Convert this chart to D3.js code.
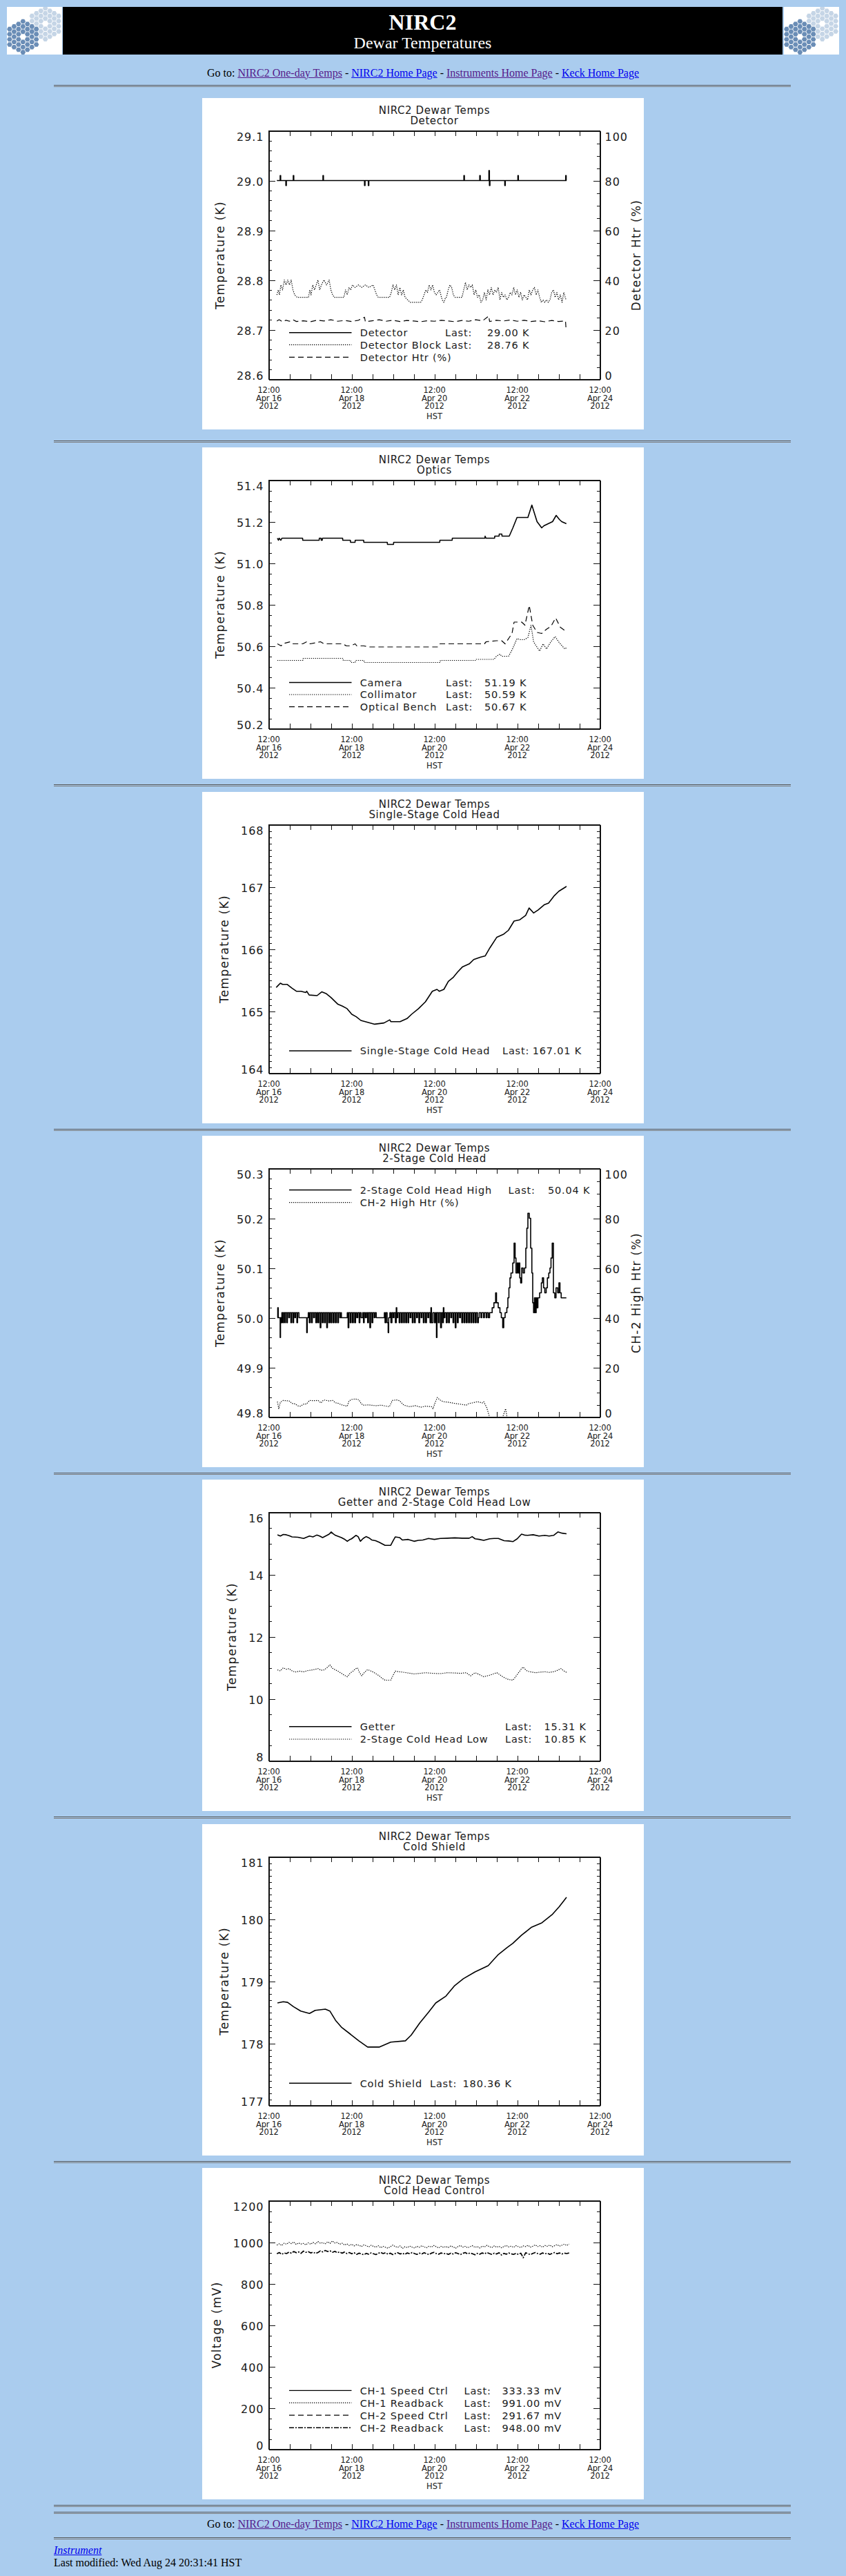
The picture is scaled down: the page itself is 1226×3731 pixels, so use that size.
<!DOCTYPE html>
<html>
<head>
<meta charset="utf-8">
<title>NIRC2 Dewar Temperatures</title>
<script src="https://cdn.jsdelivr.net/npm/d3@7"></script>
<style>
html, body { margin: 0; padding: 0; }
body { width: 1226px; height: 3731px; position: relative; overflow: hidden;
       background: #aaccee; font-family: "Liberation Serif", "Times New Roman", serif; }
.abs { position: absolute; }
.hr { position: absolute; left: 78px; width: 1068px; height: 1px;
      border-top: 1px solid #555; border-bottom: 1px solid #7a7a7a; }
.line { position: absolute; white-space: nowrap; font-size: 16px; line-height: 16px; }
a { color: #0000ee; }
a.v { color: #551a8b; }
svg.panel { position: absolute; left: 293px; }
svg text { font-family: "DejaVu Sans", sans-serif; fill: #1a1a1a; }
</style>
</head>
<body>
<script>
// ---------- data (hours after 12:00 Apr 16 2012 HST, value) ----------
var navLinks = ["NIRC2 One-day Temps", "NIRC2 Home Page", "Instruments Home Page", "Keck Home Page"];
var navVisited = [true, false, true, false];

var detector = [[4.7,29.00],[6.6,29.01],[6.9,29.00],[9.9,28.99],[10.2,29.00],[14.2,29.01],[14.5,29.00],
  [31.4,29.01],[31.7,29.00],[55.5,28.99],[55.8,29.00],[57.7,28.99],[58.0,29.00],[113.1,29.01],[113.4,29.00],
  [122.3,29.01],[122.6,29.00],[127.6,29.02],[127.9,28.99],[128.2,29.00],[136.8,28.99],[137.1,29.00],
  [144.4,29.01],[144.7,29.00],[172.1,29.01],[172.4,29.00],[172.6,29.00]];
var detectorBlock = [[4.7,28.77],[5.5,28.78],[6.2,28.77],[7,28.79],[8,28.78],[9,28.80],[10,28.79],[11,28.80],
  [12,28.79],[13,28.80],[14,28.78],[15,28.77],[16.5,28.765],[20,28.765],[23,28.765],[23.8,28.78],[24.5,28.77],
  [25.5,28.79],[26.5,28.78],[27.5,28.79],[28.5,28.80],[29.5,28.78],[30.5,28.79],[32,28.80],[33.5,28.79],
  [35,28.80],[36,28.78],[37,28.77],[38,28.765],[41,28.765],[43.5,28.765],[44.5,28.78],[45.5,28.77],
  [46.5,28.785],[47.5,28.78],[48.5,28.79],[50,28.785],[52,28.79],[54,28.785],[56,28.79],[58,28.785],
  [60.5,28.79],[61.5,28.78],[62.5,28.77],[63.5,28.765],[70,28.765],[71,28.775],[72,28.79],[73,28.78],
  [74,28.79],[75,28.77],[76,28.785],[77,28.77],[78,28.78],[79,28.765],[80.5,28.76],[82,28.755],[88,28.755],
  [89,28.76],[90,28.77],[91,28.78],[92,28.775],[93,28.79],[94,28.78],[95,28.79],[96,28.775],[97,28.77],
  [98,28.775],[99,28.78],[100.5,28.76],[101.5,28.755],[102.5,28.765],[103,28.765],[104,28.78],[105,28.79],
  [106,28.785],[107,28.77],[108,28.765],[112,28.765],[113,28.78],[114,28.795],[115,28.78],[116,28.79],
  [117,28.785],[118,28.79],[119,28.77],[120,28.78],[121,28.765],[122,28.77],[123,28.755],[124,28.76],
  [125,28.775],[126,28.76],[127,28.78],[128,28.77],[129,28.785],[130,28.77],[131,28.78],[132,28.775],
  [133,28.785],[134,28.76],[135,28.775],[136,28.765],[137,28.77],[138,28.76],[139,28.765],[140,28.775],
  [141,28.77],[142,28.785],[143,28.77],[144,28.78],[145,28.765],[146,28.775],[147,28.76],[148,28.77],
  [149,28.765],[150,28.76],[151,28.78],[152,28.77],[153,28.78],[154,28.785],[155,28.77],[156,28.78],
  [157,28.765],[158,28.755],[159,28.76],[160,28.755],[161,28.76],[162,28.755],[163,28.76],[164,28.775],
  [165,28.78],[166,28.765],[167,28.775],[168,28.76],[169,28.77],[170,28.755],[171,28.775],[172.3,28.76]];
var detectorHtr = [[4.7,23.5],[6,24],[8,23.2],[10,23.8],[12,23.4],[14,24],[16,23.3],[20,23.6],[24,23.2],
  [28,23.8],[32,23.5],[36,24],[40,23.4],[44,23.7],[48,23.3],[52,23.8],[55.5,25],[56,23.2],[60,23.6],[64,24],
  [68,23.4],[72,23.8],[76,23.3],[80,23.7],[84,23.5],[88,23.2],[92,23.6],[96,23.4],[100,23.8],[104,23.5],
  [108,23.2],[112,23.7],[116,23.4],[120,24],[124,23.6],[127.5,25.5],[128,23.3],[132,23.8],[136,23.5],
  [140,23.9],[144,23.4],[148,23.8],[152,23.3],[156,23.6],[160,23.2],[164,23.7],[168,23.3],[172,23.5],[172.3,20.5]];
var detYTicks = [28.6, 28.7, 28.8, 28.9, 29.0, 29.1];
var htrTicks = [0, 20, 40, 60, 80, 100];
var detNames = ["Detector", "Detector Block", "Detector Htr (%)"];
var detLast = ["29.00 K", "28.76 K", null];

var camera = [[5.0,51.12],[5.6,51.11],[6.0,51.12],[7.0,51.11],[7.6,51.12],[19.6,51.12],[19.7,51.11],[29.2,51.11],
  [29.3,51.12],[30.3,51.12],[30.4,51.11],[31.0,51.11],[31.1,51.12],[42.8,51.12],[42.9,51.11],[47.3,51.11],
  [47.4,51.10],[50.0,51.10],[50.1,51.11],[55.0,51.11],[55.1,51.10],[68.7,51.10],[68.8,51.09],[72.3,51.09],
  [72.4,51.10],[99.1,51.10],[99.2,51.11],[106.3,51.11],[106.4,51.12],[125.3,51.12],[125.4,51.13],[125.9,51.12],
  [130.9,51.12],[131.0,51.13],[133.5,51.13],[133.6,51.14],[135.1,51.14],[135.2,51.13],[139.4,51.13],
  [141.5,51.17],[143.9,51.22],[150.2,51.22],[152.5,51.28],[154.0,51.24],[155.5,51.20],[158.2,51.17],
  [159.5,51.18],[162.0,51.19],[164.5,51.20],[166.6,51.23],[168.5,51.21],[169.8,51.20],[172.5,51.19]];
var collimator = [[5.0,50.53],[19.7,50.53],[20,50.54],[42.9,50.54],[43.2,50.53],[47.4,50.53],[47.7,50.52],
  [50.1,50.52],[50.4,50.53],[55.1,50.53],[55.4,50.52],[99.2,50.52],[99.5,50.53],[120,50.53],[120.3,50.535],
  [130.5,50.535],[132,50.55],[134,50.56],[135,50.55],[139,50.55],[141,50.58],[143.9,50.635],[146,50.63],
  [148,50.63],[150.2,50.64],[152,50.70],[153.5,50.62],[155,50.60],[157,50.575],[159,50.61],[161,50.585],
  [163.5,50.62],[166,50.645],[168,50.62],[171.6,50.585],[172.5,50.59]];
var opticalBench = [[5.0,50.61],[7.2,50.60],[8.0,50.61],[12.5,50.62],[14,50.61],[19.7,50.61],[22,50.62],
  [24,50.61],[30,50.62],[32,50.61],[42.9,50.61],[45,50.60],[47.4,50.60],[50.1,50.61],[51,50.60],[55.1,50.60],
  [58,50.595],[98,50.595],[99.2,50.61],[110,50.61],[125,50.61],[126,50.62],[132,50.625],[135,50.625],
  [137,50.61],[139.4,50.64],[141,50.66],[142.2,50.715],[146.6,50.715],[148.5,50.70],[151,50.795],[153,50.70],
  [155.5,50.665],[158.2,50.66],[160.9,50.68],[163.6,50.695],[166.3,50.735],[169,50.69],[171.5,50.675],[172.5,50.67]];
var opticsYTicks = [50.2, 50.4, 50.6, 50.8, 51.0, 51.2, 51.4];
var opticsNames = ["Camera", "Collimator", "Optical Bench"];
var opticsLast = ["51.19 K", "50.59 K", "50.67 K"];

var singleStage = [[4.3,165.38],[5.3,165.41],[6.7,165.45],[8.0,165.43],[10.7,165.43],[13.4,165.37],[16.0,165.32],
  [18.7,165.32],[21.4,165.30],[22.0,165.32],[23.4,165.26],[28.0,165.25],[30.7,165.31],[33.4,165.28],[36.0,165.22],
  [40.1,165.11],[42.7,165.08],[45.4,165.04],[48.1,164.95],[50.7,164.91],[53.4,164.85],[57.4,164.82],[61.4,164.79],
  [66.8,164.81],[70.1,164.86],[70.8,164.83],[76.1,164.83],[80.1,164.88],[82.8,164.95],[86.8,165.04],[90.8,165.15],
  [94.8,165.32],[97.5,165.35],[98.8,165.32],[101.5,165.35],[104.1,165.48],[106.8,165.54],[109.5,165.63],
  [112.2,165.71],[116.2,165.76],[118.8,165.83],[122.8,165.87],[125.5,165.89],[128.2,166.02],[132.2,166.19],
  [136.2,166.24],[138.9,166.30],[142.2,166.45],[145.5,166.47],[148.9,166.54],[150.9,166.66],[153.5,166.58],
  [156.2,166.63],[159.6,166.71],[162.2,166.74],[165.6,166.86],[168.2,166.93],[172.2,167.00],[172.5,167.01]];
var singleYTicks = [164, 165, 166, 167, 168];
var singleNames = ["Single-Stage Cold Head"];
var singleLast = ["167.01 K"];

var coldHeadHigh = [[5.0,50.00],[5.2,50.02],[5.5,50.00],[6.6,49.96],[6.8,50.00],[7.2,49.99],[7.6,50.01],[8.2,49.99],
  [8.6,50.01],[9.3,49.99],[9.6,50.01],[10.4,49.99],[10.8,50.01],[11.6,50.00],[12.0,50.01],[12.8,49.99],[13.2,50.01],
  [14.0,49.99],[14.4,50.01],[15.1,50.00],[15.5,50.01],[16.3,49.99],[16.7,50.01],[17.5,50.00],[22.0,49.97],
  [22.3,50.00],[22.9,50.01],[23.5,49.99],[24.0,50.01],[24.8,49.99],[25.2,50.01],[26.0,50.00],[26.5,50.01],
  [27.3,49.99],[27.8,50.01],[28.5,49.99],[29.0,50.01],[29.8,49.98],[30.2,50.01],[31.0,49.99],[31.5,50.01],
  [32.3,49.99],[32.8,50.01],[33.6,49.98],[34.0,50.01],[34.8,49.99],[35.3,50.01],[36.0,49.99],[36.5,50.01],
  [37.3,49.99],[37.8,50.01],[38.6,49.99],[39.1,50.01],[39.9,49.99],[40.4,50.01],[41.2,50.00],[41.7,50.01],
  [42.1,50.00],[45.5,50.01],[46.0,49.98],[46.4,50.01],[47.2,49.99],[47.7,50.01],[48.5,49.99],[49.0,50.01],
  [49.8,49.99],[50.3,50.01],[51.0,50.00],[51.6,50.01],[52.4,49.99],[52.8,50.01],[53.5,50.00],[54.4,50.01],
  [54.9,49.99],[55.3,50.01],[56.0,50.00],[56.6,50.01],[57.3,49.99],[57.8,50.01],[58.6,49.98],[59.0,50.01],
  [59.8,49.99],[60.3,50.01],[61.1,50.00],[61.6,50.01],[62.3,50.00],[67.0,50.01],[67.4,49.99],[67.9,50.01],
  [68.6,49.99],[69.2,49.97],[69.5,50.00],[70.2,50.01],[70.8,49.99],[71.4,50.01],[72.1,50.00],[72.6,50.01],
  [73.4,49.99],[73.9,50.02],[74.2,50.00],[74.8,50.01],[75.6,49.99],[76.1,50.01],[76.9,49.99],[77.4,50.01],
  [78.2,49.99],[78.6,50.01],[79.4,49.99],[79.9,50.01],[80.7,49.99],[81.1,50.01],[81.9,50.00],[82.4,50.01],
  [83.2,49.99],[83.7,50.01],[84.5,49.99],[84.9,50.01],[85.7,50.00],[86.2,50.01],[87.0,49.99],[87.5,50.01],
  [88.3,50.00],[88.8,50.01],[89.6,49.99],[90.1,50.01],[90.9,49.99],[91.4,50.01],[92.2,50.00],[92.7,50.01],
  [93.5,49.99],[94.0,50.02],[94.3,49.99],[95.1,50.01],[96.0,49.99],[96.6,50.01],[97.2,49.96],[97.5,50.01],
  [98.3,49.99],[98.8,50.01],[99.6,49.98],[100.1,50.01],[100.8,49.99],[101.2,50.02],[101.5,50.00],[102.1,50.01],
  [102.9,49.99],[103.4,50.01],[104.2,49.99],[104.7,50.01],[105.5,50.00],[106.0,50.01],[106.8,49.99],[107.3,50.01],
  [108.1,49.98],[108.5,50.01],[109.3,49.99],[109.8,50.01],[110.6,50.00],[111.1,50.01],[111.9,49.99],[112.4,50.01],
  [113.2,49.99],[113.7,50.01],[114.5,49.99],[115.0,50.01],[115.8,49.99],[116.3,50.01],[117.1,49.99],[117.6,50.01],
  [118.4,49.99],[118.9,50.01],[119.7,49.99],[120.2,50.01],[121.0,49.99],[121.5,50.00],[122.0,50.01],[123.0,50.00],
  [123.5,50.01],[124.5,50.00],[125.0,50.01],[126.0,50.00],[126.5,50.01],[127.3,50.00],[128.0,50.01],[129.5,50.02],
  [130.5,50.03],[131.5,50.05],[132.0,50.03],[133.0,50.02],[134.0,50.01],[134.8,50.00],[135.6,49.98],[136.2,50.00],
  [137.0,50.01],[138.0,50.02],[138.6,50.04],[139.2,50.06],[139.8,50.08],[140.4,50.09],[141.4,50.11],[142.2,50.15],
  [142.8,50.12],[143.3,50.09],[144.0,50.11],[144.5,50.09],[145.0,50.11],[145.5,50.08],[146.0,50.07],[146.6,50.10],
  [147.4,50.09],[148.2,50.10],[149.0,50.14],[149.6,50.18],[150.2,50.21],[151.0,50.20],[151.8,50.14],[152.5,50.09],
  [153.0,50.03],[153.5,50.01],[154.0,50.04],[154.5,50.01],[155.0,50.04],[155.5,50.02],[156.0,50.04],[157.0,50.05],
  [158.0,50.07],[158.6,50.08],[159.3,50.06],[160.0,50.05],[160.8,50.06],[161.5,50.08],[162.3,50.09],[163.0,50.10],
  [163.6,50.12],[164.3,50.15],[165.0,50.05],[165.8,50.04],[166.5,50.06],[167.5,50.05],[168.2,50.07],[168.8,50.05],
  [169.5,50.04],[172.5,50.04]];
var ch2HighHtr = [[5.0,6.2],[5.8,3.4],[6.7,6.0],[8.4,6.7],[11.8,6.5],[13.5,5.5],[15.2,5.3],[17,4.5],[18.5,4.4],
  [20,5.2],[21.9,5.3],[23.6,6.7],[26,6.6],[28.6,6.7],[30.3,5.7],[31.2,6.5],[32.0,6.9],[35,6.5],[37.1,6.7],
  [38.5,5.8],[40.4,5.5],[42,5.0],[44,4.6],[45.5,4.4],[46.5,6.5],[48,7.1],[50,7.3],[52.2,7.0],[53.5,5.5],
  [54.7,4.8],[58,4.9],[62,4.6],[65,4.8],[67.4,4.5],[69.9,4.2],[71.6,6.7],[74,6.9],[75.8,6.6],[78.3,4.8],
  [81.7,4.2],[85,4.6],[88,4.0],[91,4.4],[94.3,4.2],[95.2,3.4],[96.5,6.0],[97.7,7.9],[99,7.0],[101.1,6.2],
  [104,6.0],[107.8,5.5],[111,5.2],[114.5,4.8],[116,5.5],[117.9,5.7],[121,6.2],[123.8,5.7],[124.6,6.2],
  [126.3,3.9],[128,0],[135.6,0],[137.3,3.4],[138.1,0],[172.6,0]];
var twoStageYTicks = [49.8, 49.9, 50.0, 50.1, 50.2, 50.3];
var twoStageNames = ["2-Stage Cold Head High", "CH-2 High Htr (%)"];
var twoStageLast = ["50.04 K", null];

var getter = [[5.05,15.28],[6.7,15.24],[8.4,15.29],[10.1,15.28],[11.8,15.25],[13.5,15.21],[16.9,15.20],[20.2,15.16],
  [21.9,15.20],[23.6,15.24],[25.6,15.21],[27.8,15.27],[29.5,15.24],[31.2,15.19],[33.7,15.26],[35.0,15.30],
  [36.2,15.37],[37.4,15.31],[38.7,15.26],[42.1,15.19],[43.8,15.14],[45.5,15.07],[46.8,15.12],[48.0,15.15],
  [50.5,15.26],[51.8,15.22],[53.1,15.07],[54.7,15.16],[56.4,15.22],[58.1,15.18],[59.8,15.11],[61.9,15.09],
  [64.0,15.04],[65.7,14.99],[67.4,14.94],[70.7,14.94],[72.0,15.08],[73.3,15.21],[75.8,15.19],[77.5,15.11],
  [80.8,15.13],[84.2,15.07],[86.7,15.10],[89.3,15.11],[92.6,15.16],[96.0,15.13],[99.4,15.16],[103.6,15.17],
  [107.8,15.18],[112.0,15.17],[116.2,15.17],[117.9,15.22],[119.6,15.15],[122.0,15.13],[124.6,15.10],
  [128.0,15.15],[130.6,15.16],[133.1,15.16],[136.4,15.09],[139.0,15.08],[141.5,15.06],[144.0,15.15],
  [146.5,15.30],[148.2,15.27],[149.9,15.26],[153.3,15.28],[156.6,15.24],[160.0,15.26],[162.5,15.24],
  [165.1,15.26],[167.6,15.37],[170.1,15.33],[172.6,15.31]];
var coldHeadLow = [[5.05,10.93],[6.7,10.90],[8.4,11.00],[10.1,10.95],[11.8,10.97],[13.5,10.90],[15.2,10.86],
  [17.7,10.89],[20.2,10.87],[22.7,10.91],[25.3,10.93],[28.6,10.97],[30.3,10.92],[32.0,10.93],[33.7,11.00],
  [35.4,11.09],[37.0,10.98],[38.7,10.93],[40.4,10.88],[42.1,10.82],[43.8,10.76],[45.5,10.71],[47.2,10.83],
  [48.8,10.89],[50.1,10.96],[51.4,11.00],[52.6,10.85],[53.9,10.74],[55.6,10.86],[57.3,10.94],[59.0,10.90],
  [60.6,10.86],[62.3,10.80],[64.0,10.74],[65.7,10.66],[67.4,10.60],[70.7,10.60],[72.0,10.75],[73.3,10.89],
  [75.4,10.87],[77.5,10.86],[80.8,10.83],[84.2,10.80],[87.6,10.82],[90.9,10.84],[95.2,10.82],[99.4,10.81],
  [103.6,10.84],[107.8,10.83],[111.2,10.82],[114.5,10.84],[117.0,10.74],[119.6,10.84],[122.1,10.78],
  [124.6,10.71],[128.0,10.76],[130.1,10.80],[132.2,10.84],[135.6,10.71],[137.3,10.66],[139.0,10.62],
  [141.5,10.60],[143.2,10.72],[144.8,10.84],[146.1,10.94],[147.4,11.02],[148.6,10.95],[149.9,10.89],
  [152.4,10.86],[154.9,10.84],[157.5,10.86],[160.0,10.87],[162.5,10.85],[165.0,10.87],[167.1,10.91],
  [169.3,10.97],[171.0,10.90],[172.6,10.85]];
var getterYTicks = [8, 10, 12, 14, 16];
var getterNames = ["Getter", "2-Stage Cold Head Low"];
var getterLast = ["15.31 K", "10.85 K"];

var coldShield = [[5.05,178.65],[8.4,178.67],[10.9,178.66],[14.3,178.59],[18.5,178.52],[23.6,178.48],[26.9,178.53],
  [32.8,178.55],[35.4,178.52],[38.7,178.37],[42.1,178.26],[47.2,178.15],[52.2,178.04],[57.3,177.94],[64.0,177.94],
  [70.7,178.02],[79.2,178.04],[82.5,178.13],[87.6,178.33],[92.6,178.50],[96.8,178.65],[102.7,178.76],[107.8,178.93],
  [112.8,179.04],[119.6,179.15],[127.2,179.25],[133.1,179.43],[138.1,179.54],[141.5,179.61],[146.5,179.74],
  [152.4,179.87],[158.3,179.94],[164.2,180.07],[168.4,180.20],[172.6,180.35]];
var shieldYTicks = [177, 178, 179, 180, 181];
var shieldNames = ["Cold Shield"];
var shieldLast = ["180.36 K"];

// readbacks sampled every 1.4 h from 4.7 h
var readbackStart = 4.7, readbackStep = 1.4;
var ch1Readback = [986,992,984,995,990,999,993,1001,989,996,991,
  994,987,997,990,999,992,1003,995,998,991, 1002,994,1006,996,999,990,995,986,992,984,
  990,982,988,985,979,987,983,977,985,980, 976,983,973,980,975,971,978,986,979,975,
  982,970,978,974,981,976,972,980,975,983, 977,973,981,976,984,978,972,980,975,979,
  974,982,977,971,979,984,976,980,973,978, 983,975,979,972,981,977,985,978,974,982,
  976,980,973,979,984,977,981,975,983,978, 974,982,979,985,976,981,987,979,983,976,
  984,980,986,978,983,988,981,985,990,984,991];
var ch2Readback = [944,950,941,948,945,952,947,955,949,953,946,
  957,951,954,948,952,946,950,958,953,960, 955,958,951,956,949,953,947,952,945,950,
  944,949,941,947,943,939,946,942,948,944, 940,946,951,945,949,942,947,940,945,949,
  943,947,941,948,944,950,945,941,947,943, 949,944,940,947,951,945,942,948,944,946,
  941,947,943,949,945,940,946,950,943,948, 944,939,946,942,948,944,950,945,941,947,
  943,949,938,946,942,948,944,941,946,941, 947,925,949,944,940,946,950,945,942,948,
  944,947,941,946,950,944,948,943,947,945,948];
var controlYTicks = [0, 200, 400, 600, 800, 1000, 1200];
var controlNames = ["CH-1 Speed Ctrl", "CH-1 Readback", "CH-2 Speed Ctrl", "CH-2 Readback"];
var controlLast = ["333.33 mV", "991.00 mV", "291.67 mV", "948.00 mV"];

// ---------- page ----------
var body = d3.select("body");
var t0 = new Date(2012, 3, 16, 12, 0);
function at(h) { return new Date(t0.getTime() + h * 3600000); }
function baselineTop(b, fs) { return (b - 0.8375 * fs) + "px"; }

function hexLogo(left) {
  var s = body.append("svg").attr("class", "abs")
    .style("left", left + "px").style("top", "10px")
    .attr("width", 80).attr("height", 69);
  s.append("rect").attr("width", 80).attr("height", 69).attr("fill", "#fff");
  var cells = [];
  for (var q = -3; q <= 3; q++) for (var r = -3; r <= 3; r++) {
    var d = Math.max(Math.abs(q), Math.abs(r), Math.abs(q + r));
    if (d >= 1 && d <= 3) cells.push([1.5 * 4.3 * q, Math.sqrt(3) * 4.3 * (r + q / 2)]);
  }
  var hex = d3.range(6).map(function(i) { var a = Math.PI / 3 * i; return [3.8 * Math.cos(a), 3.8 * Math.sin(a)]; });
  [[55.7, 24.3, "#c5d5e6"], [23.3, 43.3, "#6a8db6"]].forEach(function(c) {
    s.append("g").attr("transform", "translate(" + c[0] + "," + c[1] + ")")
      .selectAll("path").data(cells).enter().append("path")
      .attr("d", function(p) { return "M" + hex.map(function(h) { return [p[0] + h[0], p[1] + h[1]]; }).join("L") + "Z"; })
      .attr("fill", c[2]);
  });
}
hexLogo(10);
hexLogo(1136);
body.append("div").attr("class", "abs").style("left", "91px").style("top", "10px")
  .style("width", "1043px").style("height", "69px").style("background", "#000");
body.append("div").attr("class", "line").style("left", "91px").style("width", "1043px")
  .style("text-align", "center").style("top", baselineTop(42.3, 32))
  .style("font-size", "32px").style("line-height", "32px").style("font-weight", "bold")
  .style("color", "#fff").text("NIRC2");
body.append("div").attr("class", "line").style("left", "91px").style("width", "1043px")
  .style("text-align", "center").style("top", baselineTop(70, 24))
  .style("font-size", "24px").style("line-height", "24px").style("color", "#fff")
  .text("Dewar Temperatures");

function navLine(baseline) {
  var div = body.append("div").attr("class", "line").style("left", "0px").style("width", "1226px")
    .style("text-align", "center").style("top", baselineTop(baseline, 16));
  div.append("span").text("Go to: ");
  navLinks.forEach(function(t, i) {
    if (i > 0) div.append("span").text(" - ");
    div.append("a").attr("href", "#").classed("v", navVisited[i]).text(t);
  });
}
function hr(y) { body.append("div").attr("class", "hr").style("top", y + "px"); }

navLine(111);
hr(123);

// ---------- charts ----------
var L = 96.5, R = 576.5, T = 47.5, B = 407.5;
var styles = {
  solid: { dash: null, w: 1.6 },
  dot: { dash: "1.3,1.7", w: 1.2 },
  dash: { dash: "8,5", w: 1.2 },
  dashdot: { dash: "7,2,2,2", w: 1.7 }
};

function minorTicks(ticks, n) {
  var out = [];
  for (var i = 0; i < ticks.length - 1; i++) {
    var step = (ticks[i + 1] - ticks[i]) / n;
    for (var j = 1; j < n; j++) out.push(ticks[i] + j * step);
  }
  return out;
}

function drawPanel(p) {
  var svg = body.append("svg").attr("class", "panel").style("top", p.top + "px")
    .attr("width", 640).attr("height", 480);
  svg.append("rect").attr("width", 640).attr("height", 480).attr("fill", "#fff");

  var x = d3.scaleTime().domain([at(0), at(192)]).range([L, R]);
  var y = d3.scaleLinear().domain([p.yTicks[0], p.yTicks[p.yTicks.length - 1]]).range([B, T]);
  var y2 = p.y2Ticks ? d3.scaleLinear().domain([p.y2Ticks[0], p.y2Ticks[p.y2Ticks.length - 1]]).range([B, T]) : null;

  // title
  svg.append("text").attr("x", (L + R) / 2).attr("y", 23).attr("text-anchor", "middle")
    .style("font-size", "15px").style("letter-spacing", "0.6px").text("NIRC2 Dewar Temps");
  svg.append("text").attr("x", (L + R) / 2).attr("y", 38).attr("text-anchor", "middle")
    .style("font-size", "15px").style("letter-spacing", "0.6px").text(p.sub);

  // x axes (ticks only, inward)
  var xt = x.ticks(d3.timeHour.every(12));
  svg.append("g").attr("transform", "translate(0," + B + ")")
    .call(d3.axisBottom(x).tickValues(xt).tickSizeInner(-7.2).tickSizeOuter(0).tickFormat(""));
  svg.append("g").attr("transform", "translate(0," + T + ")")
    .call(d3.axisTop(x).tickValues(xt).tickSizeInner(-7.2).tickSizeOuter(0).tickFormat(""));
  var xl = xt.filter(function(d, i) { return i % 4 === 0; });
  var fmts = [d3.timeFormat("%H:%M"), d3.timeFormat("%b %d"), d3.timeFormat("%Y")];
  var lab = svg.append("g").selectAll("g").data(xl).enter().append("g")
    .attr("transform", function(d) { return "translate(" + x(d) + ",0)"; });
  [427, 438.5, 450].forEach(function(by, k) {
    lab.append("text").attr("y", by).attr("text-anchor", "middle")
      .style("font-size", "11.5px").style("letter-spacing", "-0.2px")
      .text(function(d) { return fmts[k](d); });
  });
  svg.append("text").attr("x", (L + R) / 2).attr("y", 465).attr("text-anchor", "middle")
    .style("font-size", "11.5px").text("HST");

  // y axes
  function placeLabels(g, sc) {
    g.selectAll(".tick text").attr("dy", null).style("font-size", "16px").style("letter-spacing", "1px")
      .attr("y", function(d) {
        var yy = sc(d);
        if (Math.abs(yy - T) < 0.5) return 8 + 5.8;
        if (Math.abs(yy - B) < 0.5) return -6 + 5.8;
        return 1.5 + 5.8;
      });
  }
  var gl = svg.append("g").attr("transform", "translate(" + L + ",0)")
    .call(d3.axisLeft(y).tickValues(p.yTicks).tickSizeInner(-9.6).tickSizeOuter(0).tickPadding(7)
      .tickFormat(d3.format(p.fmt)));
  placeLabels(gl, y);
  svg.append("g").attr("transform", "translate(" + L + ",0)")
    .call(d3.axisLeft(y).tickValues(minorTicks(p.yTicks, p.yMinor)).tickSizeInner(-4.8).tickSizeOuter(0).tickFormat(""))
    .select(".domain").remove();

  var rs = y2 || y, rTicks = p.y2Ticks || p.yTicks, rMinor = p.y2Ticks ? p.y2Minor : p.yMinor;
  var gr = svg.append("g").attr("transform", "translate(" + R + ",0)")
    .call(d3.axisRight(rs).tickValues(rTicks).tickSizeInner(-9.6).tickSizeOuter(0).tickPadding(7)
      .tickFormat(y2 ? d3.format("d") : ""));
  if (y2) placeLabels(gr, y2);
  svg.append("g").attr("transform", "translate(" + R + ",0)")
    .call(d3.axisRight(rs).tickValues(minorTicks(rTicks, rMinor)).tickSizeInner(-4.8).tickSizeOuter(0).tickFormat(""))
    .select(".domain").remove();

  svg.selectAll(".domain, .tick line").attr("stroke", "#111").attr("stroke-width", 1)
    .attr("shape-rendering", "crispEdges");
  svg.selectAll(".tick text").attr("fill", "#1a1a1a").style("font-family", "DejaVu Sans, sans-serif");

  // axis titles
  var bb = gl.node().getBBox();
  svg.append("text").attr("transform", "translate(" + (L + bb.x - 18) + "," + ((T + B) / 2) + ") rotate(-90)")
    .attr("text-anchor", "middle").style("font-size", "17px").style("letter-spacing", "1.3px").text(p.yTitle);
  if (p.y2Title) {
    svg.append("text").attr("transform", "translate(634.5," + ((T + B) / 2) + ") rotate(-90)")
      .attr("text-anchor", "middle").style("font-size", "17px").style("letter-spacing", "1.3px").text(p.y2Title);
  }

  // data
  var clipId = "clip" + p.top;
  svg.append("clipPath").attr("id", clipId).append("rect")
    .attr("x", L).attr("y", T).attr("width", R - L).attr("height", B - T);
  var plot = svg.append("g").attr("clip-path", "url(#" + clipId + ")");
  p.series.forEach(function(s) {
    var sc = s.axis === 2 ? y2 : y;
    var line = d3.line().x(function(d) { return x(at(d[0])); }).y(function(d) { return sc(d[1]); })
      .curve(s.step ? d3.curveStepAfter : d3.curveLinear);
    var st = styles[s.style];
    plot.append("path").datum(s.data).attr("d", line).attr("fill", "none")
      .attr("stroke", "#000").attr("stroke-width", st.w).attr("stroke-dasharray", st.dash)
      .attr("stroke-linejoin", "round");
  });

  // box
  svg.append("rect").attr("x", L).attr("y", T).attr("width", R - L).attr("height", B - T)
    .attr("fill", "none").attr("stroke", "#111").attr("shape-rendering", "crispEdges");

  // legend
  var lg = p.legend;
  lg.names.forEach(function(name, i) {
    var ry = lg.rows[i];
    var st = styles[lg.styles[i]];
    svg.append("line").attr("x1", 126).attr("x2", 216.5).attr("y1", ry).attr("y2", ry)
      .attr("stroke", "#000").attr("stroke-width", Math.min(st.w, 1.4)).attr("stroke-dasharray", st.dash);
    var tx = svg.append("g").style("font-size", "14.5px").style("letter-spacing", "0.8px");
    tx.append("text").attr("x", 228.7).attr("y", ry + 5.3).text(name);
    if (lg.last[i]) {
      tx.append("text").attr("x", lg.lastX).attr("y", ry + 5.3).text("Last:");
      tx.append("text").attr("x", lg.valueX).attr("y", ry + 5.3).text(lg.last[i]);
    }
  });
}

var readbackPts1 = ch1Readback.map(function(v, i) { return [readbackStart + i * readbackStep, v]; });
var readbackPts2 = ch2Readback.map(function(v, i) { return [readbackStart + i * readbackStep, v]; });

var panels = [
  { top: 142, sub: "Detector", yTicks: detYTicks, yMinor: 5, fmt: ".1f", yTitle: "Temperature (K)",
    y2Ticks: htrTicks, y2Minor: 4, y2Title: "Detector Htr (%)",
    series: [{ data: detector, style: "solid", step: true }, { data: detectorBlock, style: "dot" },
             { data: detectorHtr, style: "dash", axis: 2 }],
    legend: { names: detNames, last: detLast, styles: ["solid", "dot", "dash"],
              rows: [339.7, 357.3, 375.3], lastX: 352, valueX: 413 } },
  { top: 648, sub: "Optics", yTicks: opticsYTicks, yMinor: 4, fmt: ".1f", yTitle: "Temperature (K)",
    series: [{ data: camera, style: "solid" }, { data: collimator, style: "dot" }, { data: opticalBench, style: "dash" }],
    legend: { names: opticsNames, last: opticsLast, styles: ["solid", "dot", "dash"],
              rows: [340.5, 358, 375.6], lastX: 353, valueX: 409 } },
  { top: 1146.5, sub: "Single-Stage Cold Head", yTicks: singleYTicks, yMinor: 10, fmt: "d", yTitle: "Temperature (K)",
    series: [{ data: singleStage, style: "solid" }],
    legend: { names: singleNames, last: singleLast, styles: ["solid"], rows: [375], lastX: 435, valueX: 478.7 } },
  { top: 1645, sub: "2-Stage Cold Head", yTicks: twoStageYTicks, yMinor: 5, fmt: ".1f", yTitle: "Temperature (K)",
    y2Ticks: htrTicks, y2Minor: 4, y2Title: "CH-2 High Htr (%)",
    series: [{ data: coldHeadHigh, style: "solid", step: true }, { data: ch2HighHtr, style: "dot", axis: 2 }],
    legend: { names: twoStageNames, last: twoStageLast, styles: ["solid", "dot"],
              rows: [78.5, 96.7], lastX: 443.6, valueX: 501 } },
  { top: 2143, sub: "Getter and 2-Stage Cold Head Low", yTicks: getterYTicks, yMinor: 4, fmt: "d", yTitle: "Temperature (K)",
    series: [{ data: getter, style: "solid" }, { data: coldHeadLow, style: "dot" }],
    legend: { names: getterNames, last: getterLast, styles: ["solid", "dot"],
              rows: [357.7, 376], lastX: 439, valueX: 495.5 } },
  { top: 2641.5, sub: "Cold Shield", yTicks: shieldYTicks, yMinor: 10, fmt: "d", yTitle: "Temperature (K)",
    series: [{ data: coldShield, style: "solid" }],
    legend: { names: shieldNames, last: shieldLast, styles: ["solid"], rows: [375.2], lastX: 330, valueX: 377.6 } },
  { top: 3139.5, sub: "Cold Head Control", yTicks: controlYTicks, yMinor: 4, fmt: "d", yTitle: "Voltage (mV)",
    series: [{ data: readbackPts1, style: "dot" }, { data: readbackPts2, style: "dashdot" }],
    legend: { names: controlNames, last: controlLast, styles: ["solid", "dot", "dash", "dashdot"],
              rows: [322.4, 340.2, 358.2, 376.3], lastX: 379.5, valueX: 434.5 } }
];

panels.forEach(function(p, i) {
  drawPanel(p);
  if (i === 0) hr(637.5);
  else hr(p.top + 480 + 8);
});

hr(3637.5);
navLine(3661.7);
hr(3675);
body.append("div").attr("class", "line").style("left", "78px").style("top", baselineTop(3699, 16))
  .style("font-style", "italic").append("a").attr("href", "#").text("Instrument");
body.append("div").attr("class", "line").style("left", "78px").style("top", baselineTop(3717.7, 16))
  .text("Last modified: Wed Aug 24 20:31:41 HST");
</script>
</body>
</html>
